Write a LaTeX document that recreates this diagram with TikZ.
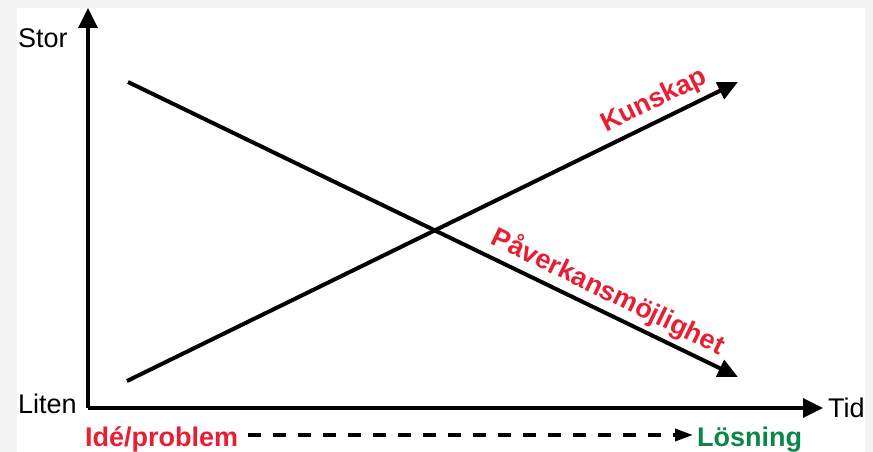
\documentclass[tikz,border=0pt]{standalone}
\usepackage{fontspec}
\setmainfont{Liberation Sans}
\usetikzlibrary{
    arrows.meta,
    positioning
}
\definecolor{ideared}{RGB}{232,30,52}
\definecolor{solgreen}{RGB}{10,134,72}
\definecolor{pagegray}{RGB}{243,243,243}
\tikzset{
    axislabel/.style={
        inner sep=0pt,
        font=\fontsize{27}{32}\selectfont
    },
    trendlabel/.style={
        axislabel,
        font=\fontsize{27}{32}\selectfont\bfseries,
        text=ideared
    },
    axisline/.style={
        -{Triangle[length=20pt, width=19pt]},
        line width=3.5pt
    },
    trend/.style={
        -{Triangle[length=20pt, width=18pt]},
        line width=4pt
    },
    process/.style={
        -{Triangle[length=18pt, width=12pt]},
        line width=3.5pt,
        dash pattern=on 13pt off 12pt
    }
}

\begin{document}
\begin{tikzpicture}[x=1pt, y=-1pt]
        % Background
        \useasboundingbox (0,0) rectangle (873,452);
        \fill [pagegray] (0,0) rectangle (873,452);
        \fill [white] (17,8) rectangle (865,452);

        % Axes
        \coordinate (origin) at (88,408);
        \coordinate (ytop) at (88,8);
        \coordinate (xend) at (823,408);
        \draw [axisline] (origin) -- (ytop);
        \draw [axisline] (origin) -- (xend);

        % Axis labels
        \node [axislabel, anchor=base west] (big) at (18,48) {Stor};
        \node [axislabel, anchor=base west] (small) at (18,413) {Liten};
        \node [axislabel, right=5pt of xend] (time) {Tid};

        % Kunskap (rising)
        \coordinate (k0) at (127,381);
        \coordinate (k1) at (738,82);
        \draw [trend] (k0) -- (k1)
            node [trendlabel, pos=0.877, sloped, above=5pt] (knowledge) {Kunskap};

        % Paverkansmojlighet (falling)
        \coordinate (p0) at (128,82);
        \coordinate (p1) at (738,377);
        \draw [trend] (p0) -- (p1)
            node [trendlabel, pos=0.773, sloped, above=4pt] (influence) {Påverkansmöjlighet};

        % Process from idea to solution
        \node [trendlabel, anchor=base west] (idea) at (85,446) {Idé/problem};
        \node [trendlabel, text=solgreen, anchor=base west] (solution) at (697,446) {Lösning};
        \draw [process] ([xshift=10pt, yshift=11pt]idea.base east)
            -- ([xshift=-4pt, yshift=11pt]solution.base west);
    \end{tikzpicture}
\end{document}
